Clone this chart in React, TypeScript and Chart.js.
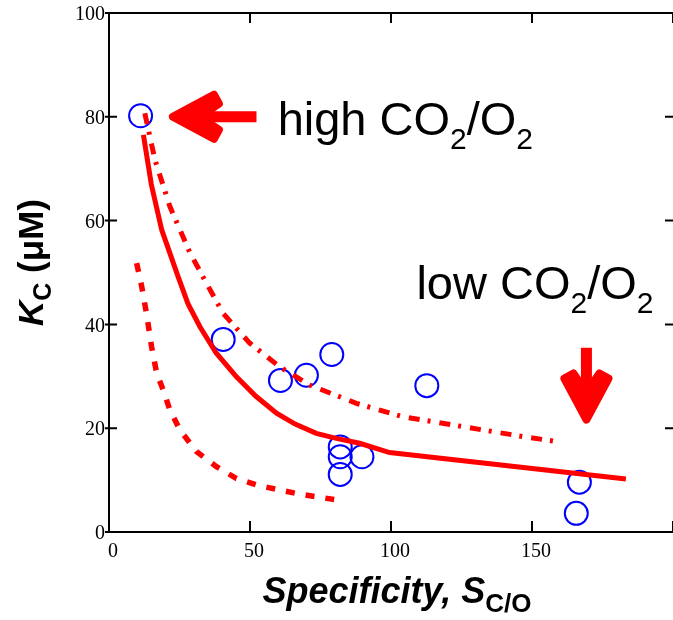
import React, { useEffect, useRef } from 'react';
import { Chart, registerables } from 'chart.js';

Chart.register(...registerables);

// Observed data (circles)
const circleX = [11.2, 40.5, 60.8, 70.0, 79.0, 82.0, 82.0, 82.0, 89.7, 112.7, 166.8, 165.7];
const circleY = [80.2, 37.1, 29.2, 30.2, 34.2, 16.4, 14.5, 11.1, 14.5, 28.2, 9.6, 3.6];

// Solid fitted line
const solidX = [12.2, 15, 18.7, 24.5, 28, 32.2, 38, 45.2, 52, 59.4, 66, 73.5, 81, 88.9, 99.5, 183.3];
const solidY = [76.5, 67, 58.2, 49.2, 44, 39.6, 34.5, 29.9, 26.2, 22.9, 20.8, 19.0, 18.0, 17.1, 15.3, 10.2];

// Upper dash-dot line
const dashDotX = [12.7, 16.3, 21.6, 28.7, 34.6, 40.5, 49.9, 60.6, 71.2, 83, 87.7, 104.2, 125.5, 146.7, 159.1];
const dashDotY = [80.7, 71.7, 62.7, 53.8, 47.9, 42.1, 36.4, 31.8, 28.3, 25.8, 24.8, 22.2, 20.3, 18.4, 17.4];

// Lower dashed line
const dashedX = [9.8, 11.6, 13.3, 15.1, 16.9, 19.2, 21.6, 25.1, 31.0, 38.1, 45.2, 53.5, 67.6, 83];
const dashedY = [51.8, 47.3, 42.1, 35.7, 30.6, 27.4, 23.5, 19.7, 15.5, 12.6, 10.3, 8.9, 7.3, 6.0];

// Axis ticks
const xTickValues = [0, 50, 100, 150, 200];
const yTickValues = [0, 20, 40, 60, 80, 100];

// Annotation anchors in data units
const highArrow = { tailX: 52.3, tipX: 21.6, y: 80 };
const lowArrow = { x: 169.3, tailY: 35.5, tipY: 21.1 };
const highLabel = { x: 59.8, y: 76.5, prefix: 'high ' };
const lowLabel = { x: 109, y: 44.8, prefix: 'low ' };

const RED = '#ff0000';
const BLUE = '#0000ff';
const SANS = "'Liberation Sans', Arial, sans-serif";
const SERIF = "'Liberation Serif', 'Times New Roman', serif";

function toPts(xs: number[], ys: number[]) {
  return xs.map((x, i) => ({ x, y: ys[i] }));
}

function drawArrow(ctx: CanvasRenderingContext2D, tx: number, ty: number, hx: number, hy: number) {
  const dx = hx - tx, dy = hy - ty;
  const len = Math.hypot(dx, dy);
  const ux = dx / len, uy = dy / len;
  const nx = -uy, ny = ux;
  const P = (back: number, lat: number) => [hx - ux * back + nx * lat, hy - uy * back + ny * lat];
  const sw = 5.5;
  const pts = [
    P(3, 0),
    P(44, 22),
    P(49, 13),
    P(38, sw),
    P(len, sw),
    P(len, -sw),
    P(38, -sw),
    P(49, -13),
    P(44, -22),
  ];
  ctx.save();
  ctx.fillStyle = RED;
  ctx.strokeStyle = RED;
  ctx.lineJoin = 'round';
  ctx.lineWidth = 8;
  ctx.beginPath();
  pts.forEach((p, i) => (i === 0 ? ctx.moveTo(p[0], p[1]) : ctx.lineTo(p[0], p[1])));
  ctx.closePath();
  ctx.fill();
  ctx.beginPath();
  ctx.moveTo(pts[3][0], pts[3][1]);
  ctx.lineTo(pts[2][0], pts[2][1]);
  ctx.lineTo(pts[1][0], pts[1][1]);
  ctx.lineTo(pts[0][0], pts[0][1]);
  ctx.lineTo(pts[8][0], pts[8][1]);
  ctx.lineTo(pts[7][0], pts[7][1]);
  ctx.lineTo(pts[6][0], pts[6][1]);
  ctx.stroke();
  ctx.restore();
}

function drawCO2Label(ctx: CanvasRenderingContext2D, x: number, y: number, prefix: string) {
  const main = `47px ${SANS}`;
  const sub = `30px ${SANS}`;
  const parts: [string, string, number][] = [
    [prefix + 'CO', main, 0],
    ['2', sub, 14],
    ['/O', main, 0],
    ['2', sub, 14],
  ];
  ctx.save();
  ctx.fillStyle = '#000';
  ctx.textBaseline = 'alphabetic';
  ctx.textAlign = 'left';
  let cx = x;
  for (const [t, f, off] of parts) {
    ctx.font = f;
    ctx.fillText(t, cx, y + off);
    cx += ctx.measureText(t).width;
  }
  ctx.restore();
}

function drawRich(ctx: CanvasRenderingContext2D, parts: [string, string, number][], cx: number, y: number) {
  let total = 0;
  for (const [t, f] of parts) {
    ctx.font = f;
    total += ctx.measureText(t).width;
  }
  let x = cx - total / 2;
  for (const [t, f, off] of parts) {
    ctx.font = f;
    ctx.fillText(t, x, y + off);
    x += ctx.measureText(t).width;
  }
}

const decorPlugin = {
  id: 'decor',
  beforeDatasetsDraw(chart: any) {
    const { ctx, chartArea } = chart;
    const xs = chart.scales.x;
    const ys = chart.scales.y;
    ctx.save();
    ctx.strokeStyle = '#000';
    ctx.lineWidth = 2;
    ctx.beginPath();
    ctx.moveTo(chartArea.left, chartArea.top);
    ctx.lineTo(chartArea.right, chartArea.top);
    ctx.stroke();
    for (const v of yTickValues) {
      const py = ys.getPixelForValue(v);
      ctx.beginPath();
      ctx.moveTo(chartArea.left - 4, py);
      ctx.lineTo(chartArea.left + 8, py);
      ctx.moveTo(chartArea.right - 8, py);
      ctx.lineTo(chartArea.right, py);
      ctx.stroke();
    }
    for (const v of xTickValues) {
      const px = xs.getPixelForValue(v);
      ctx.beginPath();
      ctx.moveTo(px, chartArea.bottom);
      ctx.lineTo(px, chartArea.bottom - 11);
      ctx.moveTo(px, chartArea.top);
      ctx.lineTo(px, chartArea.top + 10);
      ctx.stroke();
    }
    ctx.restore();
  },
  afterDatasetsDraw(chart: any) {
    const { ctx, chartArea } = chart;
    const xs = chart.scales.x;
    const ys = chart.scales.y;
    drawArrow(
      ctx,
      xs.getPixelForValue(highArrow.tailX), ys.getPixelForValue(highArrow.y),
      xs.getPixelForValue(highArrow.tipX), ys.getPixelForValue(highArrow.y)
    );
    drawArrow(
      ctx,
      xs.getPixelForValue(lowArrow.x), ys.getPixelForValue(lowArrow.tailY),
      xs.getPixelForValue(lowArrow.x), ys.getPixelForValue(lowArrow.tipY)
    );
    drawCO2Label(ctx, xs.getPixelForValue(highLabel.x), ys.getPixelForValue(highLabel.y), highLabel.prefix);
    drawCO2Label(ctx, xs.getPixelForValue(lowLabel.x), ys.getPixelForValue(lowLabel.y), lowLabel.prefix);

    ctx.save();
    ctx.fillStyle = '#000';
    ctx.textBaseline = 'alphabetic';
    ctx.textAlign = 'left';
    const xcx = (chartArea.left + chartArea.right) / 2 + 6;
    drawRich(ctx, [
      ['Specificity, S', `italic bold 36px ${SANS}`, 0],
      ['C/O', `bold 26px ${SANS}`, 9],
    ], xcx, chartArea.bottom + 71);

    ctx.translate(43, (chartArea.top + chartArea.bottom) / 2 - 10);
    ctx.rotate(-Math.PI / 2);
    drawRich(ctx, [
      ['K', `italic bold 35px ${SANS}`, 0],
      ['C', `bold 25px ${SANS}`, 8],
      [' (\u03bcM)', `bold 35px ${SANS}`, 0],
    ], 0, 0);
    ctx.restore();
  },
};

export default function App() {
  const ref = useRef<HTMLCanvasElement | null>(null);
  useEffect(() => {
    if (!ref.current) return;
    const chart = new Chart(ref.current, {
      type: 'scatter',
      data: {
        datasets: [
          {
            label: 'fit',
            data: toPts(solidX, solidY),
            showLine: true,
            borderColor: RED,
            borderWidth: 5,
            pointRadius: 0,
            tension: 0,
            fill: false,
          },
          {
            label: 'upper',
            data: toPts(dashDotX, dashDotY),
            showLine: true,
            borderColor: RED,
            borderWidth: 5,
            borderDash: [11, 8, 3, 9],
            borderCapStyle: 'butt',
            pointRadius: 0,
            tension: 0,
            fill: false,
          },
          {
            label: 'lower',
            data: toPts(dashedX, dashedY),
            showLine: true,
            borderColor: RED,
            borderWidth: 5.5,
            borderDash: [9, 11],
            borderCapStyle: 'butt',
            pointRadius: 0,
            tension: 0,
            fill: false,
          },
          {
            label: 'data',
            data: toPts(circleX, circleY),
            showLine: false,
            borderColor: BLUE,
            backgroundColor: 'rgba(0,0,0,0)',
            pointRadius: 11.5,
            pointBorderWidth: 2,
            borderWidth: 2,
          },
        ],
      },
      options: {
        responsive: false,
        animation: false,
        events: [],
        layout: { autoPadding: false, padding: { top: 13, left: 0, right: 0, bottom: 0 } },
        plugins: {
          legend: { display: false },
          tooltip: { enabled: false },
          title: { display: false },
        },
        scales: {
          x: {
            type: 'linear',
            min: 0,
            max: 200,
            afterBuildTicks: (scale: any) => {
              scale.ticks = xTickValues.map((v) => ({ value: v }));
            },
            afterFit: (scale: any) => {
              scale.height = 88;
              scale.paddingLeft = 0;
              scale.paddingRight = 0;
            },
            grid: { display: false, drawTicks: false },
            border: { display: true, color: '#000', width: 2 },
            ticks: {
              color: '#000',
              font: { family: SERIF, size: 20 },
              padding: 8,
              labelOffset: 4,
              maxRotation: 0,
              callback: (v: any) => (v === 200 ? '' : String(v)),
            },
          },
          y: {
            type: 'linear',
            min: 0,
            max: 100,
            afterBuildTicks: (scale: any) => {
              scale.ticks = yTickValues.map((v) => ({ value: v }));
            },
            afterFit: (scale: any) => {
              scale.width = 109;
              scale.paddingTop = 0;
              scale.paddingBottom = 0;
            },
            grid: { display: false, drawTicks: false },
            border: { display: true, color: '#000', width: 2 },
            ticks: {
              color: '#000',
              font: { family: SERIF, size: 20 },
              padding: 4,
              labelOffset: 2,
              callback: (v: any) => String(v),
            },
          },
        },
      },
      plugins: [decorPlugin],
    } as any);
    return () => chart.destroy();
  }, []);
  return (
    <canvas
      ref={ref}
      width={673}
      height={620}
      style={{ position: 'absolute', left: 0, top: 0, display: 'block' }}
    />
  );
}
